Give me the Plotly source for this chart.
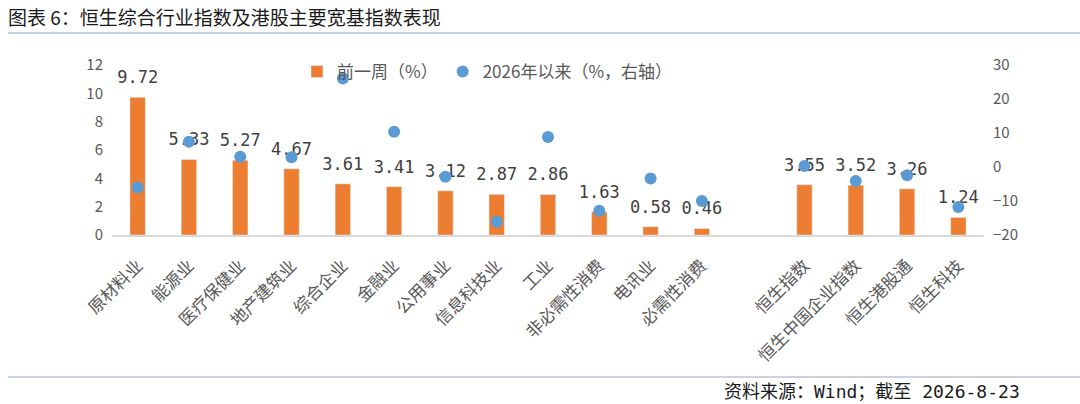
import plotly.graph_objects as go

# 行业 + 宽基指数（中间空一格）
categories = ["原材料业", "能源业", "医疗保健业", "地产建筑业", "综合企业", "金融业",
              "公用事业", "信息科技业", "工业", "非必需性消费", "电讯业", "必需性消费",
              " ", "恒生指数", "恒生中国企业指数", "恒生港股通", "恒生科技"]
week_chg = [9.72, 5.33, 5.27, 4.67, 3.61, 3.41, 3.12, 2.87, 2.86, 1.63, 0.58, 0.46,
            None, 3.55, 3.52, 3.26, 1.24]
ytd_chg = [-6.0, 7.4, 3.0, 2.9, 26.0, 10.4, -2.9, -16.1, 8.8, -12.9, -3.4, -10.0,
           None, 0.3, -4.1, -2.4, -11.8]
week_labels = [f"{v:.2f}" if v is not None else "" for v in week_chg]

ORANGE = "#ED7D31"
BLUE = "#5B9BD5"
GREY_TXT = "#595959"
FONT = "Noto Sans CJK SC"

# plot area in pixels (used only to place decorations)
L, R, T, B = 112, 984, 65, 235
W = R - L
H = B - T


def px_x(px):
    return (px - L) / W


def px_y(py):
    return (B - py) / H


fig = go.Figure()

fig.add_trace(go.Bar(
    x=categories, y=week_chg, name="前一周（%）",
    marker=dict(color=ORANGE), width=0.3,
))

# data labels above bars
fig.add_trace(go.Scatter(
    x=categories, y=week_chg, mode="markers+text", text=week_labels,
    textposition="top center", marker=dict(size=14, opacity=0),
    textfont=dict(family="DejaVu Sans Mono", size=17, color="#404040"),
    showlegend=False, hoverinfo="skip",
))

fig.add_trace(go.Scatter(
    x=categories, y=ytd_chg, mode="markers", name="2026年以来（%，右轴）",
    marker=dict(color=BLUE, size=12), yaxis="y2",
))

fig.update_layout(
    width=1080, height=404,
    margin=dict(l=L, r=1080 - R, t=T, b=404 - B),
    paper_bgcolor="white", plot_bgcolor="white",
    font=dict(family=FONT, size=15, color=GREY_TXT),
    bargap=0.7,
    xaxis=dict(
        type="category", categoryorder="array", categoryarray=categories,
        range=[-0.5, len(categories) - 0.5],
        tickangle=-45, showline=True, linecolor="#D9D9D9", linewidth=2,
        showgrid=False, ticks="", tickfont=dict(size=17, color=GREY_TXT),
        ticklabelstandoff=12, automargin=False,
    ),
    yaxis=dict(
        range=[0, 12], dtick=2, showgrid=False, zeroline=False, showline=False,
        tickfont=dict(size=15, color=GREY_TXT), ticklabelstandoff=8,
        automargin=False,
    ),
    yaxis2=dict(
        range=[-20, 30], dtick=10, overlaying="y", side="right",
        showgrid=False, zeroline=False, showline=False,
        tickfont=dict(size=15, color=GREY_TXT), ticklabelstandoff=8,
        automargin=False,
    ),
    legend=dict(
        orientation="h", x=px_x(297), xanchor="left", y=px_y(72), yanchor="middle",
        font=dict(size=17, color=GREY_TXT), bgcolor="rgba(0,0,0,0)",
        itemwidth=30, traceorder="normal",
    ),
    showlegend=True,
    shapes=[
        dict(type="line", xref="paper", yref="paper", x0=px_x(8), x1=px_x(1080),
             y0=px_y(33), y1=px_y(33), line=dict(color="#7FA7D6", width=1.2)),
        dict(type="line", xref="paper", yref="paper", x0=px_x(8), x1=px_x(1080),
             y0=px_y(377), y1=px_y(377), line=dict(color="#8EA9C8", width=1.2)),
    ],
    annotations=[
        dict(text="图表 6：恒生综合行业指数及港股主要宽基指数表现", xref="paper", yref="paper",
             x=px_x(6), y=px_y(17), xanchor="left", yanchor="middle", showarrow=False,
             font=dict(family=FONT, size=19, color="#1a1a1a")),
        dict(text="资料来源：Wind；截至 2026-8-23", xref="paper", yref="paper",
             x=px_x(1022), y=px_y(391), xanchor="right", yanchor="middle", showarrow=False,
             font=dict(family="DejaVu Sans Mono, Noto Sans CJK SC", size=18, color="#1a1a1a")),
    ],
)

# page margin off so the figure fills the 1080x404 window exactly
fig.write_html("out.html", config={"displayModeBar": False},
               post_script="document.body.style.margin='0';")
